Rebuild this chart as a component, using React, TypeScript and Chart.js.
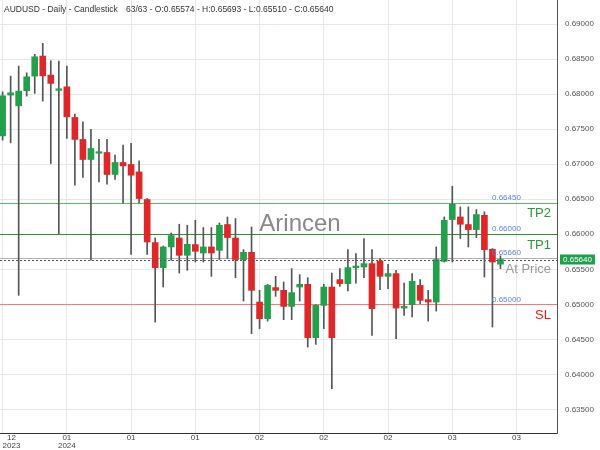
import React, { useEffect, useRef } from 'react';
import { Chart, registerables } from 'chart.js';

Chart.register(...registerables);

// ---- data ----
const opens = [
  0.67404, 0.67986, 0.67833, 0.68047, 0.68257, 0.68543, 0.68271, 0.68053, 0.68104, 0.67667,
  0.67353, 0.67067, 0.67157, 0.67167, 0.66853, 0.67024, 0.66996, 0.6689, 0.66496, 0.65881,
  0.65524, 0.65819, 0.65947, 0.657, 0.65853, 0.65733, 0.65819, 0.65771, 0.66139, 0.65947,
  0.65639, 0.65743, 0.65033, 0.64796, 0.65239, 0.652, 0.64971, 0.65247, 0.65286, 0.64524,
  0.64986, 0.65247, 0.65353, 0.65296, 0.65524, 0.65533, 0.65581, 0.65619, 0.654, 0.65439,
  0.64947, 0.64996, 0.65271, 0.65067, 0.65033, 0.65614, 0.6621, 0.66247, 0.66139, 0.66067,
  0.66271, 0.65786, 0.65574,
];
const highs = [
  0.68033, 0.68257, 0.684, 0.68304, 0.68567, 0.68724, 0.68476, 0.68471, 0.684, 0.67714,
  0.67604, 0.67496, 0.67353, 0.67353, 0.67129, 0.67271, 0.67296, 0.67047, 0.6651, 0.65947,
  0.65833, 0.66019, 0.66143, 0.66129, 0.662, 0.66096, 0.66096, 0.66161, 0.66247, 0.66224,
  0.65781, 0.66104, 0.652, 0.65286, 0.654, 0.65319, 0.6551, 0.65424, 0.65381, 0.64995,
  0.65286, 0.65447, 0.6551, 0.65781, 0.65724, 0.65939, 0.65781, 0.65653, 0.65571, 0.65486,
  0.65304, 0.65439, 0.65353, 0.652, 0.65819, 0.66247, 0.66686, 0.6639, 0.6639, 0.66353,
  0.66319, 0.65796, 0.65693,
];
const lows = [
  0.67343, 0.67304, 0.65129, 0.67971, 0.6801, 0.679, 0.6701, 0.6601, 0.67367, 0.667,
  0.6681, 0.65629, 0.66747, 0.66714, 0.66781, 0.66447, 0.65714, 0.66447, 0.65714, 0.64747,
  0.65247, 0.65629, 0.65447, 0.65486, 0.65604, 0.65604, 0.654, 0.65639, 0.65653, 0.65381,
  0.65047, 0.64581, 0.64653, 0.64761, 0.65114, 0.64781, 0.64781, 0.65047, 0.6439, 0.64429,
  0.64653, 0.63796, 0.65257, 0.6519, 0.65304, 0.65381, 0.64557, 0.6521, 0.65224, 0.6451,
  0.64843, 0.64819, 0.6501, 0.64761, 0.64904, 0.65604, 0.65604, 0.65939, 0.65819, 0.65953,
  0.6539, 0.64676, 0.6551,
];
const closes = [
  0.67976, 0.68019, 0.68043, 0.68247, 0.68533, 0.68261, 0.68153, 0.68076, 0.67676, 0.67353,
  0.67067, 0.67224, 0.67171, 0.66853, 0.67024, 0.66976, 0.66843, 0.6651, 0.6589, 0.65524,
  0.65819, 0.65981, 0.657, 0.65857, 0.65757, 0.65819, 0.65733, 0.66129, 0.65953, 0.65639,
  0.65743, 0.652, 0.64796, 0.65271, 0.652, 0.64971, 0.65167, 0.65286, 0.64524, 0.64986,
  0.65247, 0.64524, 0.65296, 0.65524, 0.65547, 0.65581, 0.64939, 0.654, 0.65439, 0.64947,
  0.64971, 0.65329, 0.65057, 0.65033, 0.65639, 0.662, 0.66429, 0.66143, 0.66067, 0.66281,
  0.65781, 0.65604, 0.6564,
];

const yTickValues = [0.635, 0.64, 0.645, 0.65, 0.655, 0.66, 0.665, 0.67, 0.675, 0.68, 0.685, 0.69];
const xTickIndex = [0, 8, 16, 24, 32, 40, 48, 56, 64];
const xTickLabels: (string | string[])[] = [
  ['  12', '2023'], ['01', '2024'], '01', '01', '02', '02', '02', '03', '03',
];

const levelValues = [0.6645, 0.66, 0.6566, 0.65];
const levelNames = ['TP2', 'TP1', 'At Price', 'SL'];
const levelTexts = ['0.66450', '0.66000', '0.65660', '0.65000'];

const lastPrice = 0.6564;
const headerLeft = 'AUDUSD - Daily - Candlestick';
const headerRight = '63/63 - O:0.65574 - H:0.65693 - L:0.65510 - C:0.65640';
const watermark = 'Arincen';

const Y_MIN = 0.631643;
const Y_MAX = 0.693429;
const X_MIN = -0.324;
const X_MAX = 69.04;

const FONT = "'Liberation Sans', Arial, sans-serif";
const GREEN = 'rgb(34,160,76)';
const RED = 'rgb(223,38,40)';

export default function App() {
  const ref = useRef<HTMLCanvasElement>(null);

  useEffect(() => {
    const idx = opens.map((_, i) => i);
    const colors = idx.map((i) => (closes[i] >= opens[i] ? GREEN : RED));

    const overlay = {
      id: 'overlay',
      beforeDatasetsDraw(chart: any) {
        const { ctx, chartArea } = chart;
        const ys = chart.scales.y;
        ctx.save();
        ctx.font = `24px ${FONT}`;
        ctx.fillStyle = 'rgba(115,115,115,0.85)';
        ctx.textAlign = 'center';
        ctx.textBaseline = 'middle';
        ctx.fillText(watermark, 300, 224);

        const lineColors = ['#58c058', '#2f8f2f', '#b0b0b0', '#f37b7b'];
        levelValues.forEach((v, k) => {
          const y = Math.round(ys.getPixelForValue(v)) + 0.5;
          ctx.strokeStyle = lineColors[k];
          ctx.lineWidth = 1;
          ctx.setLineDash([]);
          ctx.beginPath();
          ctx.moveTo(chartArea.left, y);
          ctx.lineTo(chartArea.right, y);
          ctx.stroke();
        });
        ctx.restore();
      },
      afterDatasetsDraw(chart: any) {
        const { ctx, chartArea } = chart;
        const ys = chart.scales.y;
        ctx.save();
        const py = Math.round(ys.getPixelForValue(lastPrice)) + 0.5;
        ctx.strokeStyle = '#555';
        ctx.lineWidth = 1;
        ctx.setLineDash([2, 2]);
        ctx.beginPath();
        ctx.moveTo(chartArea.left, py);
        ctx.lineTo(chartArea.right, py);
        ctx.stroke();
        ctx.setLineDash([]);

        const nameColors = ['#2a9a3a', '#2a9a3a', '#9a9a9a', '#e0201f'];
        levelValues.forEach((v, k) => {
          const y = ys.getPixelForValue(v);
          ctx.font = `8px ${FONT}`;
          ctx.fillStyle = '#5b82f0';
          ctx.textAlign = 'left';
          ctx.textBaseline = 'middle';
          ctx.fillText(levelTexts[k], 492, y - 5);
          ctx.font = `13px ${FONT}`;
          ctx.fillStyle = nameColors[k];
          ctx.textAlign = 'right';
          ctx.fillText(levelNames[k], 551, y + 11);
        });
        ctx.restore();
      },
      afterDraw(chart: any) {
        const { ctx } = chart;
        const ys = chart.scales.y;
        ctx.save();
        ctx.font = `8.5px ${FONT}`;
        ctx.fillStyle = '#333';
        ctx.textAlign = 'left';
        ctx.textBaseline = 'middle';
        ctx.fillText(headerLeft, 4, 10);
        ctx.fillText(headerRight, 126, 10);
        const py = ys.getPixelForValue(lastPrice);
        ctx.font = `8px ${FONT}`;
        ctx.fillStyle = '#1f9e4b';
        ctx.fillRect(560, py - 5, 35, 10);
        ctx.fillStyle = '#fff';
        ctx.textAlign = 'center';
        ctx.fillText(lastPrice.toFixed(5), 577.5, py + 0.5);
        ctx.restore();
      },
    };

    const chart = new Chart(ref.current as HTMLCanvasElement, {
      type: 'bar',
      data: {
        datasets: [
          {
            label: 'body',
            data: idx.map((i) => ({ x: i, y: [opens[i], closes[i]] })) as any,
            backgroundColor: colors,
            barThickness: 6,
            grouped: false,
            minBarLength: 1.5,
            order: 0,
          } as any,
          {
            label: 'wick',
            data: idx.map((i) => ({ x: i, y: [lows[i], highs[i]] })) as any,
            backgroundColor: '#555',
            barThickness: 1,
            grouped: false,
            order: 1,
          } as any,
        ],
      },
      options: {
        animation: false,
        responsive: true,
        maintainAspectRatio: false,
        layout: { padding: 0 },
        plugins: { legend: { display: false }, tooltip: { enabled: false }, title: { display: false } },
        scales: {
          x: {
            type: 'linear',
            min: X_MIN,
            max: X_MAX,
            offset: false,
            afterBuildTicks: (s: any) => {
              s.ticks = [...xTickIndex, X_MAX].map((v) => ({ value: v }));
            },
            afterFit: (s: any) => {
              s.height = 17;
              s.paddingLeft = 0;
              s.paddingRight = 0;
            },
            grid: { color: '#e8e8e8', drawTicks: false, offset: false },
            border: { display: true, color: '#333' },
            ticks: {
              autoSkip: false,
              maxRotation: 0,
              minRotation: 0,
              align: 'inner',
              padding: 1,
              color: '#444',
              font: { size: 8, family: FONT, lineHeight: 0.95 },
              callback: (_v: any, i: number) => (i < xTickLabels.length ? xTickLabels[i] : ''),
            },
          } as any,
          y: {
            type: 'linear',
            position: 'right',
            min: Y_MIN,
            max: Y_MAX,
            afterBuildTicks: (s: any) => {
              s.ticks = yTickValues.map((v) => ({ value: v }));
            },
            afterFit: (s: any) => {
              s.width = 43;
              s.paddingTop = 0;
              s.paddingBottom = 0;
            },
            grid: { color: '#e8e8e8', drawTicks: false },
            border: { display: true, color: '#555' },
            ticks: {
              padding: 8,
              color: '#555',
              font: { size: 8, family: FONT },
              callback: (v: any) => Number(v).toFixed(5),
            },
          } as any,
        },
      },
      plugins: [overlay],
    });
    return () => chart.destroy();
  }, []);

  return (
    <div style={{ position: 'fixed', left: 0, top: 0, width: 600, height: 450, background: '#fff' }}>
      <canvas ref={ref} />
    </div>
  );
}
